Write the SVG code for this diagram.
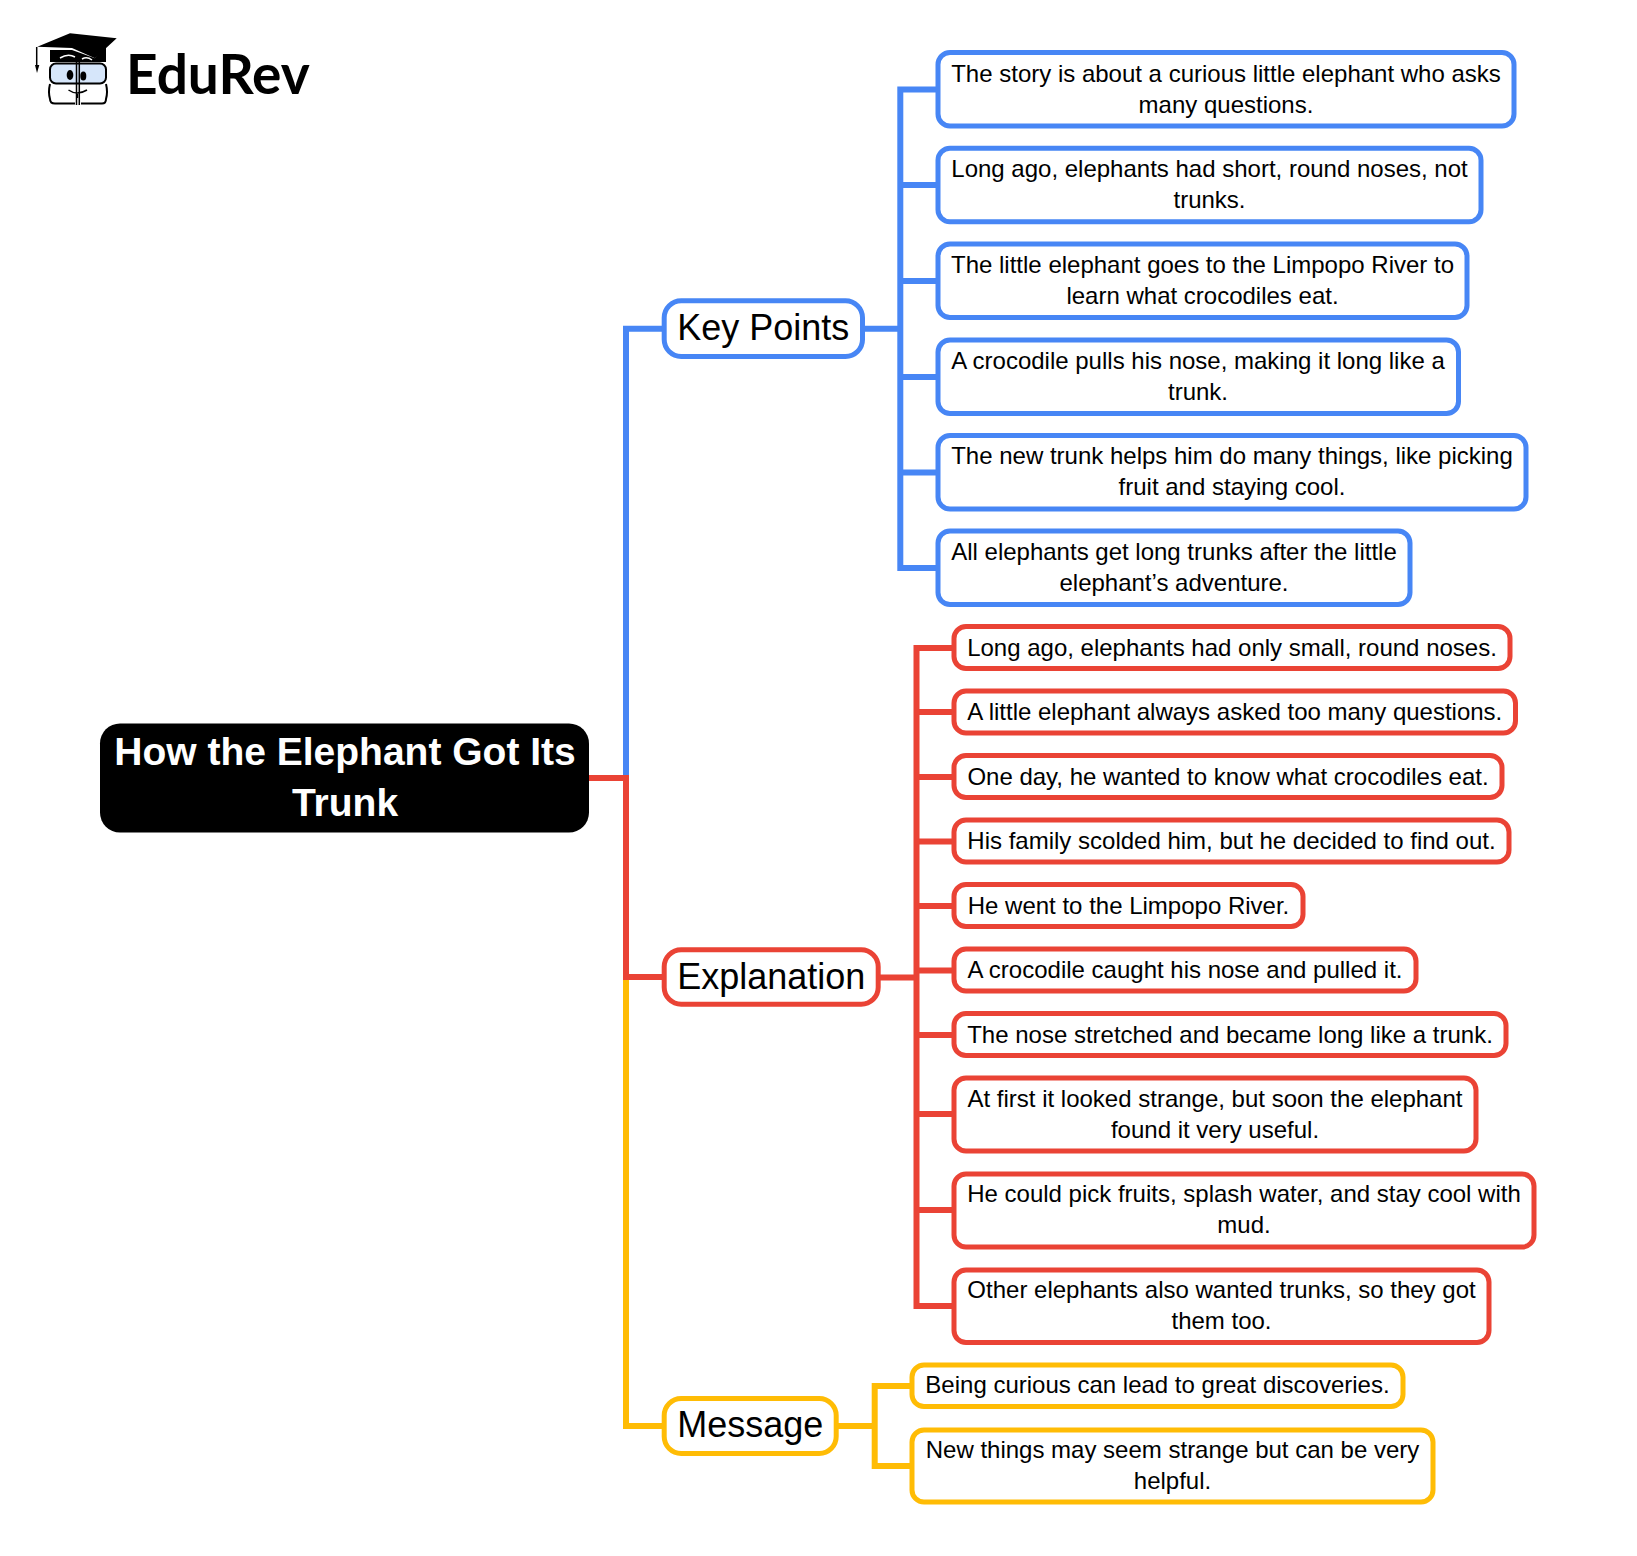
<svg xmlns="http://www.w3.org/2000/svg" width="1637" height="1556" viewBox="0 0 1637 1556">
<style>
text{font-family:"Liberation Sans",Arial,sans-serif;fill:#000;text-anchor:middle}
.l{font-size:24px}
.m{font-size:36px}
.b{fill:#fff;stroke-width:5}
.blue{stroke:#4786f5}.red{stroke:#ea4335}.yel{stroke:#ffbc05}
.c{fill:none;stroke-width:6}
</style>
<rect width="1637" height="1556" fill="#fff"/>
<g id="logo">
<path d="M37.300 46.700L70 33.300L116.700 38.300L95 58.300L72 48Z" fill="#000"/>
<path d="M50 50V62H106V43L95 58.300L72 50Z" fill="#000"/>
<path d="M60 58Q68 53 75 57M82 59Q87 56 92 60" fill="none" stroke="#fff" stroke-width="1.500"/>
<path d="M36.700 47V65" stroke="#000" stroke-width="1.500" fill="none"/>
<path d="M35 65h4.300l-2.300 8z" fill="#000"/>
<rect x="50" y="63.500" width="56" height="20" rx="6" fill="#d6e6fa" stroke="#000" stroke-width="2"/>
<path d="M50 84Q48 92 50 99Q50 103.500 55 103.500H75M106 84Q108 92 106 99Q106 103.500 102 103.500H81" fill="none" stroke="#000" stroke-width="2"/>
<path d="M76.500 62V105M79.300 62V105" fill="none" stroke="#000" stroke-width="1.500"/>
<path d="M68.500 90Q77 96 87 90M77.500 94V98" fill="none" stroke="#000" stroke-width="1.500"/>
<ellipse cx="70" cy="75" rx="3.300" ry="5" fill="#000"/><ellipse cx="83.300" cy="76" rx="3" ry="4.500" fill="#000"/>
<text x="126" y="94" style="font-family:Lato,'Noto Sans',sans-serif;font-weight:700;text-anchor:start;font-size:55px">EduRev</text>
</g>
<g id="connectors">
<path class="c blue" d="M626 778V328.700H664M862 328.700H900.300M938 89.500H900.300V568H938M900.300 185H938M900.300 281H938M900.300 377H938M900.300 472.500H938"/>
<path class="c yel" d="M626 977V1426H664M836 1426H874.700M911 1386H874.700V1466H911"/>
<path class="c red" d="M589 778H626V977H664M878 977.500H916.500M954 648H916.500V1306H954M916.500 712H954M916.500 777H954M916.500 841.500H954M916.500 906H954M916.500 970.500H954M916.500 1035H954M916.500 1114H954M916.500 1210H954"/>
</g>
<g id="root"><rect x="100" y="723.500" width="489" height="109" rx="20" fill="#000"/>
<text x="345" y="764.800" font-size="39" font-weight="700" style="fill:#fff">How the Elephant Got Its</text>
<text x="345" y="815.500" font-size="39" font-weight="700" style="fill:#fff">Trunk</text></g>
<g id="keypoints"><rect class="b blue" x="664.200" y="300.800" width="198.300" height="55.700" rx="17"/><text class="m" x="763.300" y="339.500">Key Points</text></g>
<g id="explanation"><rect class="b red" x="664.200" y="949.800" width="214" height="54.400" rx="17"/><text class="m" x="771.200" y="988.500">Explanation</text></g>
<g id="message"><rect class="b yel" x="664.200" y="1398.500" width="172" height="55" rx="17"/><text class="m" x="750.200" y="1437">Message</text></g>
<g id="k1"><rect class="b blue" x="938" y="52.500" width="576" height="73.500" rx="12"/><text class="l" x="1226" y="81.700">The story is about a curious little elephant who asks</text><text class="l" x="1226" y="112.700">many questions.</text></g>
<g id="k2"><rect class="b blue" x="938" y="148.300" width="543" height="73.500" rx="12"/><text class="l" x="1209.500" y="176.800">Long ago, elephants had short, round noses, not</text><text class="l" x="1209.500" y="207.800">trunks.</text></g>
<g id="k3"><rect class="b blue" x="938" y="244" width="529" height="73.500" rx="12"/><text class="l" x="1202.500" y="273">The little elephant goes to the Limpopo River to</text><text class="l" x="1202.500" y="304">learn what crocodiles eat.</text></g>
<g id="k4"><rect class="b blue" x="938" y="340" width="520.500" height="73.500" rx="12"/><text class="l" x="1198" y="369">A crocodile pulls his nose, making it long like a</text><text class="l" x="1198" y="400">trunk.</text></g>
<g id="k5"><rect class="b blue" x="938" y="435.500" width="588" height="73.500" rx="12"/><text class="l" x="1232" y="464">The new trunk helps him do many things, like picking</text><text class="l" x="1232" y="495">fruit and staying cool.</text></g>
<g id="k6"><rect class="b blue" x="938" y="531" width="472" height="73.500" rx="12"/><text class="l" x="1174" y="559.900">All elephants get long trunks after the little</text><text class="l" x="1174" y="590.900">elephant’s adventure.</text></g>
<g id="e1"><rect class="b red" x="954" y="626.500" width="556" height="42" rx="12"/><text class="l" x="1232" y="655.700">Long ago, elephants had only small, round noses.</text></g>
<g id="e2"><rect class="b red" x="954" y="691" width="561.500" height="42" rx="12"/><text class="l" x="1234.800" y="720.200">A little elephant always asked too many questions.</text></g>
<g id="e3"><rect class="b red" x="954" y="755.500" width="548" height="42" rx="12"/><text class="l" x="1228" y="784.700">One day, he wanted to know what crocodiles eat.</text></g>
<g id="e4"><rect class="b red" x="954" y="820" width="555" height="42" rx="12"/><text class="l" x="1231.500" y="849.200">His family scolded him, but he decided to find out.</text></g>
<g id="e5"><rect class="b red" x="954" y="884.500" width="349" height="42" rx="12"/><text class="l" x="1128.500" y="913.700">He went to the Limpopo River.</text></g>
<g id="e6"><rect class="b red" x="954" y="949" width="462" height="42" rx="12"/><text class="l" x="1185" y="978.200">A crocodile caught his nose and pulled it.</text></g>
<g id="e7"><rect class="b red" x="954" y="1013.500" width="552" height="42" rx="12"/><text class="l" x="1230" y="1042.700">The nose stretched and became long like a trunk.</text></g>
<g id="e8"><rect class="b red" x="954" y="1078" width="522" height="73" rx="12"/><text class="l" x="1215" y="1106.800">At first it looked strange, but soon the elephant</text><text class="l" x="1215" y="1137.500">found it very useful.</text></g>
<g id="e9"><rect class="b red" x="954" y="1174" width="580" height="73" rx="12"/><text class="l" x="1244" y="1202">He could pick fruits, splash water, and stay cool with</text><text class="l" x="1244" y="1233">mud.</text></g>
<g id="e10"><rect class="b red" x="954" y="1270" width="535" height="72.500" rx="12"/><text class="l" x="1221.500" y="1298">Other elephants also wanted trunks, so they got</text><text class="l" x="1221.500" y="1329">them too.</text></g>
<g id="m1"><rect class="b yel" x="912" y="1365" width="491" height="41.500" rx="12"/><text class="l" x="1157.500" y="1393">Being curious can lead to great discoveries.</text></g>
<g id="m2"><rect class="b yel" x="912" y="1430" width="521" height="72" rx="12"/><text class="l" x="1172.500" y="1457.500">New things may seem strange but can be very</text><text class="l" x="1172.500" y="1488.500">helpful.</text></g>
</svg>
